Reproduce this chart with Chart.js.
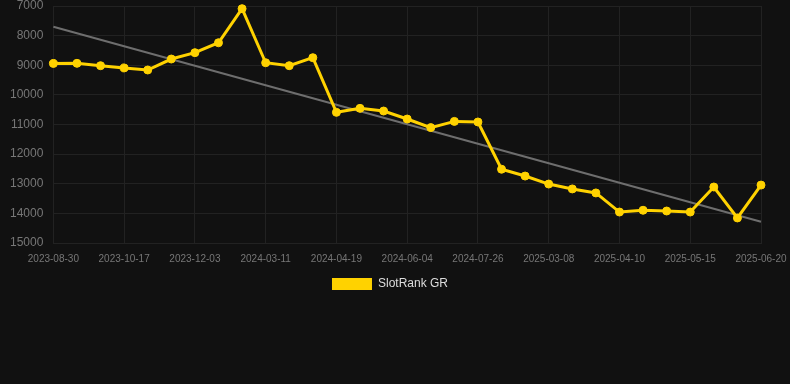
<!DOCTYPE html>
<html>
<head>
<meta charset="utf-8">
<script src="https://cdn.jsdelivr.net/npm/chart.js@4"></script>
<style>
html,body{margin:0;padding:0;background:#111111;width:790px;height:384px;overflow:hidden;}
#wrap{width:790px;height:300px;}
</style>
</head>
<body>
<div id="wrap"><canvas id="c" width="790" height="300"></canvas></div>
<script>
const labels = [
 "2023-08-30","2023-09-14","2023-10-01","2023-10-17","2023-11-02","2023-11-18","2023-12-03","2024-01-05","2024-02-08","2024-03-11",
 "2024-03-24","2024-04-06","2024-04-19","2024-05-04","2024-05-19","2024-06-04","2024-06-21","2024-07-09","2024-07-26","2024-10-15",
 "2025-01-10","2025-03-08","2025-03-19","2025-03-30","2025-04-10","2025-04-22","2025-05-03","2025-05-15","2025-05-27","2025-06-08",
 "2025-06-20"
];
const rankValues = [
 8940, 8935, 9015, 9090, 9160, 8790, 8575, 8240, 7090, 8915,
 9015, 8745, 10590, 10455, 10545, 10815, 11105, 10895, 10915, 12510,
 12740, 13010, 13175, 13310, 13955, 13895, 13920, 13955, 13110, 14155,
 13045
];
const trendStart = 7700;
const trendEnd = 14280;
const trendValues = labels.map((_, i) => i === 0 ? trendStart : (i === labels.length - 1 ? trendEnd : null));
const yTicks = [7000, 8000, 9000, 10000, 11000, 12000, 13000, 14000, 15000];

new Chart(document.getElementById('c'), {
  type: 'line',
  data: {
    labels: labels,
    datasets: [
      {
        label: 'SlotRank GR',
        data: rankValues,
        borderColor: '#FFD200',
        backgroundColor: '#FFD200',
        borderWidth: 3,
        pointRadius: 4,
        pointHoverRadius: 4,
        pointBorderWidth: 1,
        pointBackgroundColor: '#FFD200',
        pointBorderColor: '#FFD200',
        tension: 0,
        clip: false,
        order: 1
      },
      {
        label: 'trend',
        data: trendValues,
        borderColor: '#6e6e6e',
        backgroundColor: '#6e6e6e',
        borderWidth: 2,
        pointRadius: 0,
        spanGaps: true,
        order: 2
      }
    ]
  },
  options: {
    responsive: false,
    animation: false,
    maintainAspectRatio: false,
    layout: { padding: { left: 0, right: 10, top: 0, bottom: 0 } },
    plugins: {
      legend: {
        position: 'bottom',
        labels: {
          color: '#dddddd',
          font: { family: 'Liberation Sans, Arial, sans-serif', size: 12 },
          boxWidth: 40,
          boxHeight: 12,
          generateLabels: (chart) => [{
            text: chart.data.datasets[0].label,
            fillStyle: chart.data.datasets[0].backgroundColor,
            strokeStyle: chart.data.datasets[0].backgroundColor,
            lineWidth: 0,
            fontColor: '#dddddd',
            hidden: false,
            datasetIndex: 0
          }]
        }
      },
      tooltip: { enabled: false }
    },
    scales: {
      x: {
        grid: { color: '#222222', drawTicks: false },
        border: { color: '#222222' },
        afterFit: (axis) => { axis.height = 25; axis.paddingRight = 29; axis.paddingLeft = 0; },
        ticks: {
          color: '#777777',
          font: { family: 'Liberation Sans, Arial, sans-serif', size: 10 },
          maxRotation: 0,
          autoSkip: false,
          padding: 10,
          callback: function(v, i) { return i % 3 === 0 ? labels[i] : null; }
        }
      },
      y: {
        reverse: true,
        min: 7000,
        max: 15000,
        grid: { color: '#222222', drawTicks: false },
        border: { display: false },
        afterBuildTicks: (axis) => { axis.ticks = yTicks.map(v => ({ value: v })); },
        afterFit: (axis) => { axis.paddingTop = 6; axis.paddingBottom = 0; },
        ticks: {
          color: '#777777',
          font: { family: 'Liberation Sans, Arial, sans-serif', size: 12 },
          padding: 10,
          callback: (v) => String(v)
        }
      }
    }
  }
});
</script>
</body>
</html>
